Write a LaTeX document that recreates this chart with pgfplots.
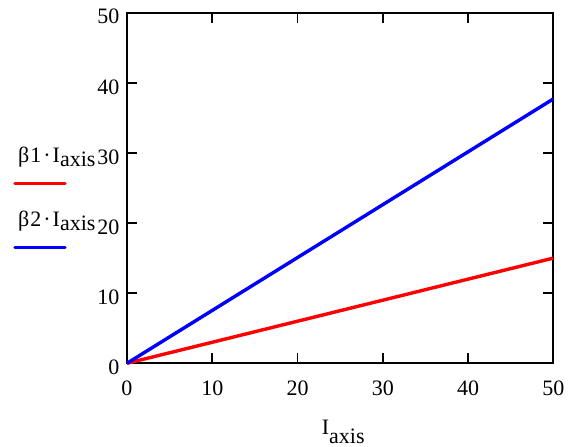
\documentclass[border=0pt]{standalone}
\usepackage{pgfplots}
\pgfplotsset{compat=1.18}
\usepackage{fontspec}
\setmainfont{Liberation Serif}
\begin{document}
\fontsize{22}{26}\selectfont
\begin{tikzpicture}
\path[use as bounding box] (-127pt,-83.7pt) rectangle (446pt,363.3pt);
\begin{axis}[at={(0pt,0pt)}, anchor=south west, scale only axis,
  width=426.3pt, height=350.6pt,
  xmin=0, xmax=50, ymin=0, ymax=50,
  xtick={0,10,20,30,40,50}, ytick={0,10,20,30,40,50},
  tick align=inside, major tick length=10pt,
  axis line style={line width=1.7pt},
  every tick/.style={black, line width=1.7pt},
  tick label style={font=\fontsize{22}{26}\selectfont},
  /pgf/number format/assume math mode=true,
  xticklabel style={anchor=north, yshift=-10pt},
  yticklabel style={anchor=east, xshift=0pt, yshift=-4pt},
  clip=false]
\addplot[red, line width=3.4pt] coordinates {(0,0) (50,15)};
\addplot[blue, line width=3.4pt] coordinates {(0,0) (50,37.7)};
\end{axis}
\node[anchor=base west, inner sep=0pt] at (-109pt,200.3pt) {β\kern1pt1\kern2pt·\kern2pt I\raisebox{-4pt}{axis}};
\node[anchor=base west, inner sep=0pt] at (-109pt,136.3pt) {β\kern1pt2\kern2pt·\kern2pt I\raisebox{-4pt}{axis}};
\draw[red, line width=3.4pt, line cap=round] (-112pt,180pt) -- (-62pt,180pt);
\draw[blue, line width=3.4pt, line cap=round] (-112pt,115.6pt) -- (-62pt,115.6pt);
\node[anchor=base west, inner sep=0pt] at (194.7pt,-71pt) {I\raisebox{-9pt}{axis}};
\end{tikzpicture}
\end{document}
